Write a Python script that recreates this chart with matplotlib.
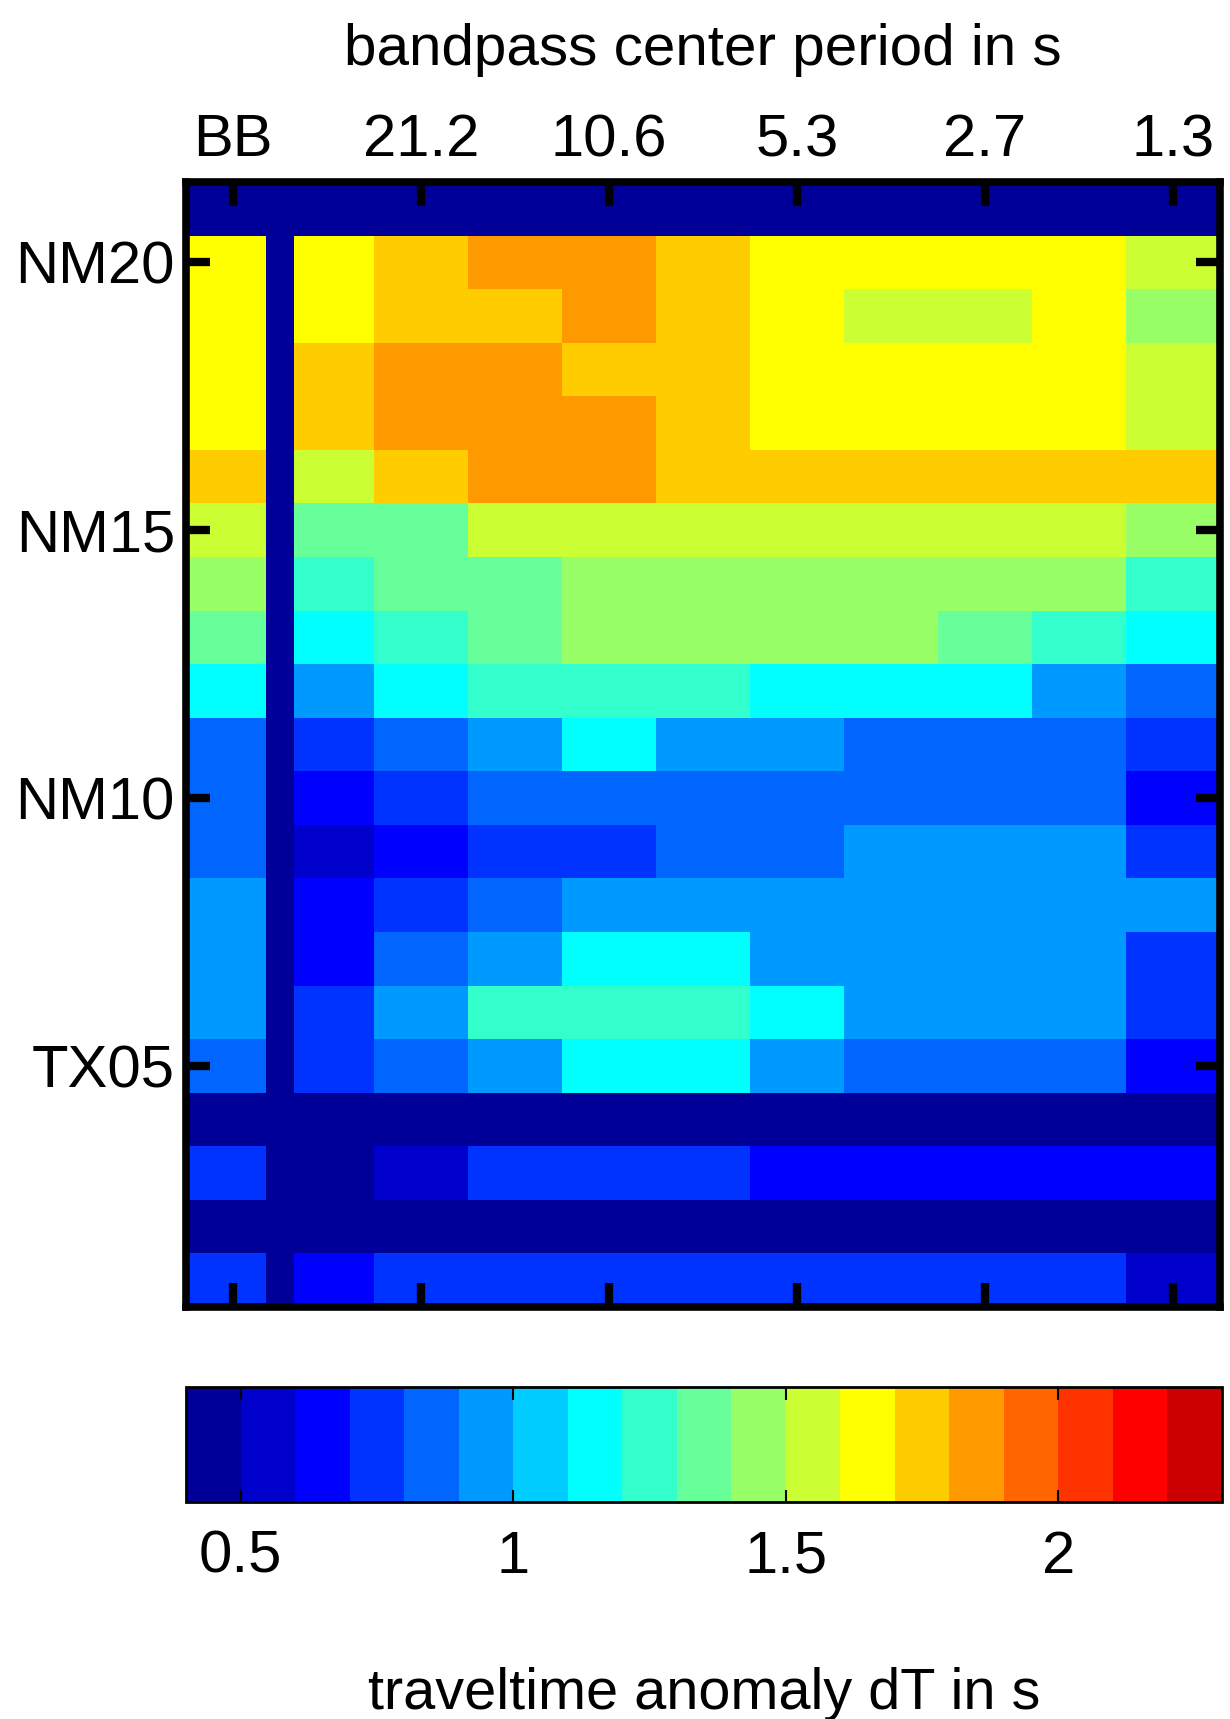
import numpy as np
import matplotlib
matplotlib.use('Agg')
import matplotlib.pyplot as plt
from matplotlib.colors import ListedColormap

plt.rcParams['font.family'] = ['Liberation Sans', 'DejaVu Sans']
plt.rcParams['font.size'] = 42

# x tick labels (BB + bandpass center periods in s) and station tick labels
period_labels = ['BB', '21.2', '10.6', '5.3', '2.7', '1.3']
station_labels = ['NM20', 'NM15', 'NM10', 'TX05']

# broadband traveltime anomaly per station row (top to bottom)
bb_dt = [1.65, 1.65, 1.65, 1.65, 1.75, 1.55, 1.45, 1.35, 1.15, 0.85,
         0.85, 0.85, 0.95, 0.95, 0.95, 0.85, 0.45, 0.75, 0.45, 0.75]

# bandpass traveltime anomalies, columns ~30, 21.2, 15, 10.6, 7.5, 5.3, 3.8, 2.7, 1.9, 1.3 s
band_dt = [
    [1.65, 1.75, 1.85, 1.85, 1.75, 1.65, 1.65, 1.65, 1.65, 1.55],
    [1.65, 1.75, 1.75, 1.85, 1.75, 1.65, 1.55, 1.55, 1.65, 1.45],
    [1.75, 1.85, 1.85, 1.75, 1.75, 1.65, 1.65, 1.65, 1.65, 1.55],
    [1.75, 1.85, 1.85, 1.85, 1.75, 1.65, 1.65, 1.65, 1.65, 1.55],
    [1.55, 1.75, 1.85, 1.85, 1.75, 1.75, 1.75, 1.75, 1.75, 1.75],
    [1.35, 1.35, 1.55, 1.55, 1.55, 1.55, 1.55, 1.55, 1.55, 1.45],
    [1.25, 1.35, 1.35, 1.45, 1.45, 1.45, 1.45, 1.45, 1.45, 1.25],
    [1.15, 1.25, 1.35, 1.45, 1.45, 1.45, 1.45, 1.35, 1.25, 1.15],
    [0.95, 1.15, 1.25, 1.25, 1.25, 1.15, 1.15, 1.15, 0.95, 0.85],
    [0.75, 0.85, 0.95, 1.15, 0.95, 0.95, 0.85, 0.85, 0.85, 0.75],
    [0.65, 0.75, 0.85, 0.85, 0.85, 0.85, 0.85, 0.85, 0.85, 0.65],
    [0.55, 0.65, 0.75, 0.75, 0.85, 0.85, 0.95, 0.95, 0.95, 0.75],
    [0.65, 0.75, 0.85, 0.95, 0.95, 0.95, 0.95, 0.95, 0.95, 0.95],
    [0.65, 0.85, 0.95, 1.15, 1.15, 0.95, 0.95, 0.95, 0.95, 0.75],
    [0.75, 0.95, 1.25, 1.25, 1.25, 1.15, 0.95, 0.95, 0.95, 0.75],
    [0.75, 0.85, 0.95, 1.15, 1.15, 0.95, 0.85, 0.85, 0.85, 0.65],
    [0.45, 0.45, 0.45, 0.45, 0.45, 0.45, 0.45, 0.45, 0.45, 0.45],
    [0.45, 0.55, 0.75, 0.75, 0.75, 0.65, 0.65, 0.65, 0.65, 0.65],
    [0.45, 0.45, 0.45, 0.45, 0.45, 0.45, 0.45, 0.45, 0.45, 0.45],
    [0.65, 0.75, 0.75, 0.75, 0.75, 0.75, 0.75, 0.75, 0.75, 0.55],
]

clim = (0.4, 2.3)
cb_ticks = [0.5, 1, 1.5, 2]
cb_ticklabels = ['0.5', '1', '1.5', '2']


def matlab_jet(m):
    # same construction as matlab's jet(m)
    n = int(np.ceil(m / 4))
    u = np.r_[np.arange(1, n + 1) / n, np.ones(n - 1), np.arange(n, 0, -1) / n]
    g = int(np.ceil(n / 2)) - int(m % 4 == 1) + np.arange(1, len(u) + 1)
    r = g + n
    b = g - n
    J = np.zeros((m, 3))
    J[r[r <= m] - 1, 0] = u[r <= m]
    J[g[g <= m] - 1, 1] = u[g <= m]
    J[b[b >= 1] - 1, 2] = u[b >= 1]
    return J


cmap = ListedColormap(matlab_jet(19))

# grid: padding row on top, BB column, empty separator column, bandpass columns
nrow = len(bb_dt) + 1
grid = np.zeros((nrow, 12))
grid[1:, 0] = bb_dt
grid[1:, 2:] = np.array(band_dt)

xe = np.r_[-0.5, 0.35, 0.65, np.arange(1.5, 11, 1)]
ye = np.arange(nrow + 1)

fig = plt.figure(figsize=(12.3, 17.19), dpi=100)
ax = fig.add_axes([186 / 1230, 1 - 1307 / 1719, 1034 / 1230, 1125 / 1719])
mesh = ax.pcolormesh(xe, ye, grid, cmap=cmap, vmin=clim[0], vmax=clim[1])
ax.set_xlim(-0.5, 10.5)
ax.set_ylim(nrow, 0)

ax.set_xticks(np.arange(0, 11, 2))
ax.set_xticklabels(period_labels, fontsize=43)
ax.set_yticks([1.5, 6.5, 11.5, 16.5])
ax.set_yticklabels(station_labels, fontsize=43)
ax.tick_params(axis='x', top=True, bottom=True, labeltop=True, labelbottom=False,
               direction='in', length=17, width=6, pad=10)
ax.tick_params(axis='y', left=True, right=True, direction='in',
               length=17, width=6, pad=8)
for s in ax.spines.values():
    s.set_linewidth(5.5)

fig.text(703 / 1230, 1 - 50 / 1719, 'bandpass center period in s',
         ha='center', va='center', fontsize=42)

cax = fig.add_axes([186 / 1230, 1 - 1502 / 1719, 1036 / 1230, 115 / 1719])
cb = fig.colorbar(mesh, cax=cax, orientation='horizontal', ticks=cb_ticks)
cb.set_ticklabels(cb_ticklabels)
cb.outline.set_linewidth(2)
cax.tick_params(top=True, bottom=True, direction='in', length=9, width=1.5,
                pad=20, labelsize=43)

fig.text(704 / 1230, 1 - 1694 / 1719, 'traveltime anomaly dT in s',
         ha='center', va='center', fontsize=41.5)

fig.savefig('out.png', dpi=100)
